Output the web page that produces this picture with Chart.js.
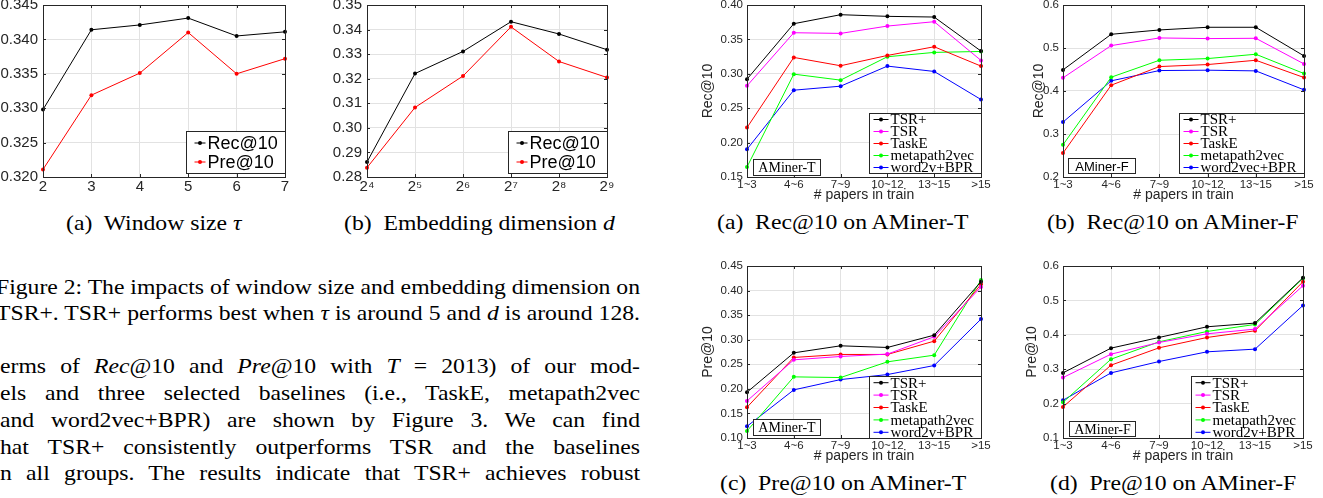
<!DOCTYPE html>
<html>
<head>
<meta charset="utf-8">
<script src="https://cdn.jsdelivr.net/npm/chart.js@4/dist/chart.umd.min.js"></script>
<style>
  body { margin: 0; width: 1323px; height: 498px; overflow: hidden; background: #fff; position: relative;
         font-family: "Liberation Serif", "Times New Roman", serif; color: #000; }
  canvas { position: absolute; }
  .ln { position: absolute; height: 26px; line-height: 26px; font-size: 21px; white-space: nowrap;
        transform-origin: 0 0; }
  .cap { position: absolute; height: 26px; line-height: 26px; font-size: 21px; white-space: nowrap;
         transform-origin: 0 0; }
  .m { font-style: italic; }
</style>
</head>
<body>
<canvas id="cA" width="305" height="210" style="left:0px;top:-10px"></canvas>
<canvas id="cB" width="307" height="210" style="left:320px;top:-10px"></canvas>
<canvas id="cC" width="301" height="214" style="left:700px;top:-10px"></canvas>
<canvas id="cD" width="293" height="214" style="left:1031px;top:-10px"></canvas>
<canvas id="cE" width="301" height="214" style="left:700px;top:251px"></canvas>
<canvas id="cF" width="299" height="214" style="left:1024px;top:251px"></canvas>

<div class="cap" data-c="154" style="top:210px">(a)&nbsp; Window size <span class="m">τ</span></div>
<div class="cap" data-c="479" style="top:210px">(b)&nbsp; Embedding dimension <span class="m">d</span></div>
<div class="cap" data-c="843" style="top:209px">(a)&nbsp; Rec@10 on AMiner-T</div>
<div class="cap" data-c="1173" style="top:209px">(b)&nbsp; Rec@10 on AMiner-F</div>
<div class="cap" data-c="843" style="top:470px">(c)&nbsp; Pre@10 on AMiner-T</div>
<div class="cap" data-c="1173" style="top:470px">(d)&nbsp; Pre@10 on AMiner-F</div>

<div class="ln" data-l="-4" style="top:274px">Figure 2: The impacts of window size and embedding dimension on</div>
<div class="ln" data-l="-4" style="top:300px">TSR+. TSR+ performs best when <span class="m">τ</span> is around 5 and <span class="m">d</span> is around 128.</div>
<div class="ln" data-l="0" style="top:353px">erms of <span class="m">Rec</span>@10 and <span class="m">Pre</span>@10 with <span class="m">T</span> = 2013) of our mod-</div>
<div class="ln" data-l="0" style="top:380px">els and three selected baselines (i.e., TaskE, metapath2vec</div>
<div class="ln" data-l="0" style="top:407px">and word2vec+BPR) are shown by Figure 3. We can find</div>
<div class="ln" data-l="0" style="top:434px">hat TSR+ consistently outperforms TSR and the baselines</div>
<div class="ln" data-l="0" style="top:460px">n all groups. The results indicate that TSR+ achieves robust</div>

<script>
// Figure 2 (a): window size
const windowSizes = ['2', '3', '4', '5', '6', '7'];
const windowRec = [0.3298, 0.3414, 0.3421, 0.3431, 0.3405, 0.3411];
const windowPre = [0.3211, 0.3319, 0.3351, 0.3410, 0.3350, 0.3372];

// Figure 2 (b): embedding dimension
const dimLabels = ['2⁴', '2⁵', '2⁶', '2⁷', '2⁸', '2⁹'];
const dimRec = [0.2861, 0.3221, 0.3311, 0.3432, 0.3382, 0.3318];
const dimPre = [0.2838, 0.3083, 0.3211, 0.3411, 0.3270, 0.3205];

const metricNames = ['Rec@10', 'Pre@10'];

// Figure 3: groups by # papers in train
const groups = ['1~3', '4~6', '7~9', '10~12', '13~15', '>15'];
const methods = ['TSR+', 'TSR', 'TaskE', 'metapath2vec', 'word2v+BPR'];
const methodsF = ['TSR+', 'TSR', 'TaskE', 'metapath2vec', 'word2vec+BPR'];

// rows follow methods order
const recT = [
    [0.2922, 0.3728, 0.3859, 0.3835, 0.3825, 0.3330],
    [0.2825, 0.3597, 0.3587, 0.3694, 0.3757, 0.3194],
    [0.2218, 0.3238, 0.3117, 0.3267, 0.3393, 0.3112],
    [0.1646, 0.2995, 0.2908, 0.3248, 0.3311, 0.3325],
    [0.1903, 0.2762, 0.2820, 0.3112, 0.3034, 0.2626]
];
const recF = [
    [0.4491, 0.5319, 0.5420, 0.5482, 0.5482, 0.4816],
    [0.4306, 0.5056, 0.5234, 0.5219, 0.5226, 0.4630],
    [0.2557, 0.4135, 0.4568, 0.4615, 0.4715, 0.4313],
    [0.2750, 0.4321, 0.4715, 0.4754, 0.4855, 0.4406],
    [0.3277, 0.4236, 0.4476, 0.4484, 0.4468, 0.4027]
];
const preT = [
    [0.1931, 0.2733, 0.2876, 0.2842, 0.3093, 0.4181],
    [0.1754, 0.2591, 0.2659, 0.2707, 0.3060, 0.4072],
    [0.1625, 0.2639, 0.2700, 0.2700, 0.2971, 0.4127],
    [0.1143, 0.2244, 0.2230, 0.2550, 0.2686, 0.4215],
    [0.1238, 0.1979, 0.2189, 0.2291, 0.2475, 0.3420]
];
const preF = [
    [0.2893, 0.3612, 0.3922, 0.4233, 0.4340, 0.5660],
    [0.2757, 0.3437, 0.3777, 0.4029, 0.4165, 0.5427],
    [0.1903, 0.3117, 0.3621, 0.3922, 0.4117, 0.5544],
    [0.2039, 0.3291, 0.3796, 0.4097, 0.4301, 0.5641],
    [0.2097, 0.2893, 0.3223, 0.3505, 0.3583, 0.4854]
];

const SANS = '"Liberation Sans", Arial, Helvetica, sans-serif';
const SERIF = '"Liberation Serif", "Times New Roman", serif';
const lineColors = ['#000000', '#ff00ff', '#ff0000', '#00ff00', '#0000ff'];
const AXIS = '#262626';

// matlab style box, inward ticks, legend and dataset tag drawn inside the axes
const matlabBox = {
    id: 'matlabBox',
    afterDatasetsDraw(chart, args, opts) {
        const { ctx, chartArea: a, scales: { x, y } } = chart;
        ctx.save();
        ctx.strokeStyle = AXIS;
        ctx.lineWidth = 1;
        ctx.beginPath();
        x.ticks.forEach((t, i) => {
            const px = Math.round(x.getPixelForTick(i)) + 0.5;
            ctx.moveTo(px, a.bottom); ctx.lineTo(px, a.bottom - 3);
            ctx.moveTo(px, a.top); ctx.lineTo(px, a.top + 3);
        });
        y.ticks.forEach((t, i) => {
            const py = Math.round(y.getPixelForTick(i)) + 0.5;
            ctx.moveTo(a.left, py); ctx.lineTo(a.left + 3, py);
            ctx.moveTo(a.right, py); ctx.lineTo(a.right - 3, py);
        });
        ctx.stroke();
        ctx.strokeRect(Math.round(a.left) + 0.5, Math.round(a.top) + 0.5,
            Math.round(a.right - a.left), Math.round(a.bottom - a.top));

        const lg = opts.legend;
        if (lg) {
            const ds = chart.data.datasets;
            ctx.font = lg.font;
            const tw = Math.max(...ds.map(d => ctx.measureText(d.label).width));
            const w = Math.round(lg.padL + lg.sample + lg.gap + tw + lg.padR);
            const h = Math.round(lg.rowH * ds.length + 2 * lg.padV);
            const bx = Math.round(a.right) - w + 0.5;
            const by = Math.round(a.bottom) - lg.bottom - h + 0.5;
            ctx.fillStyle = '#fff';
            ctx.fillRect(bx, by, w, h);
            ctx.strokeStyle = AXIS;
            ctx.strokeRect(bx, by, w, h);
            ds.forEach((d, i) => {
                const cy = by + lg.padV + lg.rowH * (i + 0.5);
                const sx = bx + lg.padL;
                ctx.strokeStyle = d.borderColor;
                ctx.beginPath(); ctx.moveTo(sx, cy); ctx.lineTo(sx + lg.sample, cy); ctx.stroke();
                ctx.fillStyle = d.borderColor;
                ctx.beginPath(); ctx.arc(sx + lg.sample / 2, cy, 2, 0, Math.PI * 2); ctx.fill();
                ctx.fillStyle = '#000';
                ctx.textAlign = 'left';
                ctx.textBaseline = 'middle';
                ctx.fillText(d.label, sx + lg.sample + lg.gap, cy + 1);
            });
        }

        const tag = opts.tag;
        if (tag) {
            ctx.font = tag.font;
            const w = Math.round(ctx.measureText(tag.text).width + 2 * tag.pad);
            const bx = Math.round(a.left) + tag.left + 0.5;
            const by = Math.round(a.bottom) - tag.bottom - tag.h + 0.5;
            ctx.fillStyle = '#fff';
            ctx.fillRect(bx, by, w, tag.h);
            ctx.strokeStyle = AXIS;
            ctx.strokeRect(bx, by, w, tag.h);
            ctx.fillStyle = '#000';
            ctx.textAlign = 'center';
            ctx.textBaseline = 'middle';
            ctx.fillText(tag.text, bx + w / 2, by + tag.h / 2 + 1);
        }
        ctx.restore();
    }
};

function lineChart(id, labels, series, names, o) {
    return new Chart(document.getElementById(id), {
        type: 'line',
        data: {
            labels,
            datasets: series.map((vals, i) => ({
                label: names[i],
                data: vals,
                borderColor: lineColors[o.colors[i]],
                backgroundColor: lineColors[o.colors[i]],
                borderWidth: 1,
                pointRadius: 2,
                pointHoverRadius: 2,
                pointBorderWidth: 0,
                tension: 0,
                clip: false
            }))
        },
        options: {
            responsive: false,
            animation: false,
            events: [],
            layout: { padding: { top: 15, right: 20, left: 0, bottom: 0 } },
            plugins: {
                legend: { display: false },
                tooltip: { enabled: false },
                matlabBox: { legend: o.legend, tag: o.tag || null }
            },
            scales: {
                x: {
                    offset: false,
                    grid: { color: '#e2e2e2', drawTicks: false },
                    border: { display: false },
                    ticks: { font: { family: SANS, size: o.tickSize }, color: AXIS, padding: 1,
                             maxRotation: 0, autoSkip: false },
                    title: o.xTitle
                        ? { display: true, text: o.xTitle, font: { family: SANS, size: 14 }, color: AXIS, padding: 0 }
                        : { display: false },
                    afterFit: s => { s.height = o.xH; }
                },
                y: {
                    min: o.yMin,
                    max: o.yMax,
                    grid: { color: '#e2e2e2', drawTicks: false },
                    border: { display: false },
                    ticks: { stepSize: o.step, callback: v => v.toFixed(o.dec),
                             font: { family: SANS, size: o.tickSize }, color: AXIS, padding: o.yPad },
                    title: o.yTitle
                        ? { display: true, text: o.yTitle, font: { family: SANS, size: 14 }, color: AXIS, padding: 0 }
                        : { display: false },
                    afterFit: s => { s.width = o.yW; }
                }
            }
        },
        plugins: [matlabBox]
    });
}

const bigLegend = { font: '18px ' + SANS, rowH: 19, padV: 2, padL: 8, sample: 11, gap: 2, padR: 8, bottom: 4 };
const smallLegendTop = { font: '15px ' + SERIF, rowH: 12, padV: 0, padL: 4, sample: 15, gap: 2, padR: 8, bottom: 4 };
const smallLegendBottom = { font: '15px ' + SERIF, rowH: 12.4, padV: 0, padL: 4, sample: 15, gap: 2, padR: 8, bottom: 0 };

lineChart('cA', windowSizes, [windowRec, windowPre], metricNames, {
    colors: [0, 2], yMin: 0.32, yMax: 0.345, step: 0.005, dec: 3, tickSize: 15,
    yPad: 5, yW: 43, xH: 23, legend: bigLegend
});
lineChart('cB', dimLabels, [dimRec, dimPre], metricNames, {
    colors: [0, 2], yMin: 0.28, yMax: 0.35, step: 0.01, dec: 2, tickSize: 15,
    yPad: 5, yW: 47, xH: 23, legend: bigLegend
});
lineChart('cC', groups, recT, methods, {
    colors: [0, 1, 2, 3, 4], yMin: 0.15, yMax: 0.40, step: 0.05, dec: 2, tickSize: 11.5,
    yPad: 4, yW: 47, xH: 27, xTitle: '# papers in train', yTitle: 'Rec@10',
    legend: smallLegendTop,
    tag: { text: 'AMiner-T', font: '14px ' + SERIF, pad: 5, h: 16, left: 6, bottom: 2 }
});
lineChart('cD', groups, recF, methodsF, {
    colors: [0, 1, 2, 3, 4], yMin: 0.2, yMax: 0.6, step: 0.1, dec: 1, tickSize: 11.5,
    yPad: 4, yW: 32, xH: 27, xTitle: '# papers in train', yTitle: 'Rec@10',
    legend: smallLegendTop,
    tag: { text: 'AMiner-F', font: '13px ' + SANS, pad: 7, h: 15, left: 5, bottom: 4 }
});
lineChart('cE', groups, preT, methods, {
    colors: [0, 1, 2, 3, 4], yMin: 0.10, yMax: 0.45, step: 0.05, dec: 2, tickSize: 11.5,
    yPad: 4, yW: 47, xH: 27, xTitle: '# papers in train', yTitle: 'Pre@10',
    legend: smallLegendBottom,
    tag: { text: 'AMiner-T', font: '14px ' + SERIF, pad: 5, h: 16, left: 6, bottom: 3 }
});
lineChart('cF', groups, preF, methods, {
    colors: [0, 1, 2, 3, 4], yMin: 0.1, yMax: 0.6, step: 0.1, dec: 1, tickSize: 11.5,
    yPad: 4, yW: 39, xH: 27, xTitle: '# papers in train', yTitle: 'Pre@10',
    legend: smallLegendBottom,
    tag: { text: 'AMiner-F', font: '14px ' + SERIF, pad: 5, h: 15, left: 6, bottom: 2 }
});

// the scanned page is wider than tall: stretch text sideways so the caption line
// "Figure 2: ..." just fills the column, then justify every line to the column edge
const lines = [...document.querySelectorAll('.ln')];
const stretch = 644 / lines[0].getBoundingClientRect().width;
lines.forEach(el => {
    const left = +el.dataset.l;
    const target = (640 - left) / stretch;
    const gaps = (el.textContent.match(/[ \u00a0]/g) || []).length;
    const natural = el.getBoundingClientRect().width;
    el.style.wordSpacing = ((target - natural) / gaps) + 'px';
    el.style.left = left + 'px';
    el.style.transform = 'scaleX(' + stretch + ')';
});
document.querySelectorAll('.cap').forEach(el => {
    const w = el.getBoundingClientRect().width * stretch;
    el.style.left = (+el.dataset.c - w / 2) + 'px';
    el.style.transform = 'scaleX(' + stretch + ')';
});
</script>
</body>
</html>
